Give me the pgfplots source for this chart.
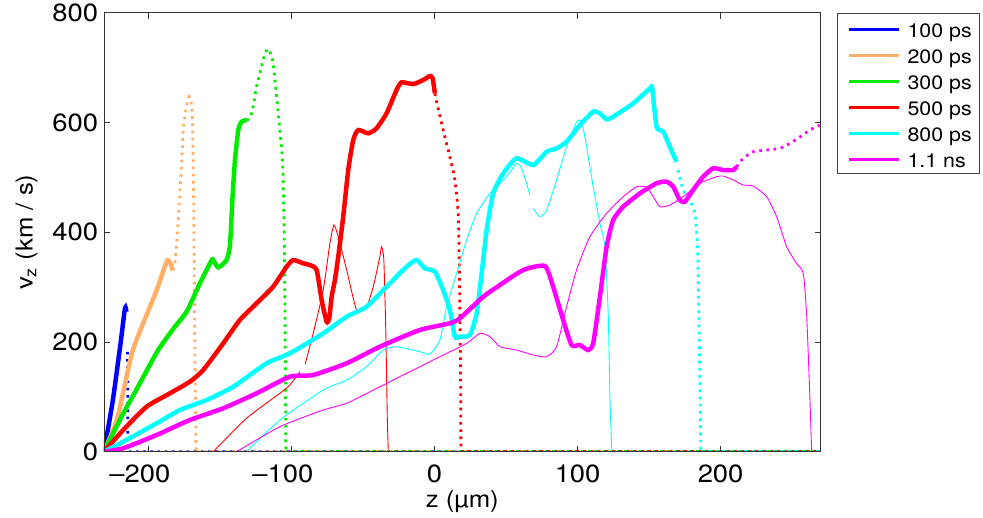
\documentclass[border=0pt]{standalone}
\usepackage{fontspec}
\setmainfont[FakeStretch=1.1]{TeX Gyre Heros}
\usepackage{pgfplots}
\pgfplotsset{compat=1.18}
\definecolor{cblue}{rgb}{0,0,1}
\definecolor{corange}{rgb}{1,0.69,0.40}
\definecolor{cgreen}{rgb}{0,0.92,0}
\definecolor{cred}{rgb}{1,0,0}
\definecolor{ccyan}{rgb}{0,1,1}
\definecolor{cmag}{rgb}{1,0,1}
\begin{document}
\begin{tikzpicture}
\useasboundingbox (-104bp,-66.3bp) rectangle (879bp,451.7bp);
\begin{axis}[
  at={(0,0)}, anchor=south west,
  scale only axis, width=716.7bp, height=439bp,
  xmin=-231.2, xmax=270, ymin=0, ymax=800,
  xtick={-200,-100,0,100,200},
  xticklabels={\textendash200\hspace*{17.4bp},\textendash100\hspace*{17.4bp},0,100,200},
  ytick={0,200,400,600,800},
  /pgf/number format/assume math mode=true,
  tick align=inside, major tick length=6bp,
  tick style={black!80, line width=0.6bp},
  axis line style={black!80, line width=0.8bp},
  axis on top,
  ticklabel style={font=\fontsize{25}{28}\selectfont},
  xticklabel style={inner ysep=0pt, yshift=-13bp},
  yticklabel style={inner xsep=0pt, xshift=-5.7bp},
  xlabel={z (µm)}, ylabel={v\textsubscript{z} (km / s)},
  every axis x label/.style={at={(axis description cs:0.5,0)}, anchor=center, yshift=-50.3bp, font=\fontsize{23.5}{26}\selectfont},
  every axis y label/.style={at={(axis description cs:-0.1079,0.5)}, anchor=center, rotate=90, font=\fontsize{23.5}{26}\selectfont},
  legend style={at={(1.0225,1)}, anchor=north west, draw=black!75, line width=0.8bp,
    font=\fontsize{19.5}{22}\selectfont, inner xsep=7.5bp, inner ysep=3.3bp,
    nodes={inner sep=0pt, text height=21bp, text depth=3bp},
    row sep=2bp, column sep=7.3bp},
  legend cell align=left,
  legend image code/.code={\path (0bp,-4bp) (0bp,4bp); \draw[#1, line width=3bp, solid] (2.5bp,-0.7bp) -- (51.8bp,-0.7bp);},
  thk/.style={line width=4.5bp, smooth, tension=0.35},
  dts/.style={line width=2.8bp, dash pattern=on 2.6bp off 4.6bp, smooth, tension=0.35},
  dtz/.style={line width=2.8bp, dash pattern=on 2.6bp off 4.6bp},
  thn/.style={line width=0.9bp, smooth, tension=0.35},
]
% ---------------- 100 ps
\addplot[cblue, thk] coordinates {(-231.2,0) (-225,94) (-219.5,200) (-216.5,262) (-215.5,255)};
\addlegendentry{100 ps}
\addplot[cblue, dtz, forget plot] coordinates {(-214.7,182) (-214.5,0) (270,0)};
% ---------------- 200 ps
\addplot[corange, thk] coordinates {(-231.2,0) (-222,60) (-211,185) (-195,290) (-189,335) (-186.7,349) (-185,345) (-183,330)};
\addlegendentry{200 ps}
\addplot[corange, dts, forget plot] coordinates {(-181.6,344) (-179.7,404) (-176.9,526) (-175.8,586) (-174.4,615) (-172.8,640) (-171.6,647) (-170.5,640) (-169.5,615) (-168.8,526) (-168.3,404) (-167.6,185) (-166.9,3)};
\addplot[corange, dtz, forget plot] coordinates {(-166.9,0) (270,0)};
% ---------------- 300 ps
\addplot[cgreen, thk] coordinates {(-231.2,0) (-218.9,63.8) (-206.1,124.6) (-193.3,185.3) (-181.6,227.8) (-173.4,255.1) (-164.1,306.9) (-156.6,345.7) (-155.2,350.6) (-151.3,336) (-145.5,349.3) (-143.1,376.6) (-141.3,464.7) (-139.6,531.5) (-137.3,586.2) (-135,601.3) (-131.5,604.4)};
\addlegendentry{300 ps}
\addplot[cgreen, dts, forget plot] coordinates {(-131.5,604.4) (-129.2,607.5) (-126.9,628.6) (-124.5,665.1) (-122.2,689.5) (-119.9,713.7) (-117.1,733.8) (-114.7,726) (-112.9,707.7) (-110.5,646.9) (-108.2,586.2) (-106.3,525.5) (-105.2,403.9) (-104.5,221.6) (-104,3)};
\addplot[cgreen, dtz, forget plot] coordinates {(-104,0) (270,0)};
% ---------------- 500 ps
\addplot[cred, thk] coordinates {(-231.2,0) (-217.8,39.5) (-201.4,82) (-185.1,106.4) (-171.1,127.6) (-161.8,148.8) (-147.8,197.5) (-136.2,240) (-124.5,270.4) (-112.9,300.7) (-103.5,337.1) (-98.9,349.3) (-91.9,343.3) (-87.2,340.2) (-82.5,331.1) (-79,276.4) (-75.5,236.9) (-73.7,243.1) (-72,282.4) (-69.7,312.9) (-67.4,355.3) (-63.9,428.2) (-60.4,513.3) (-56.9,568) (-53.4,586.2) (-46.4,580.2) (-40.6,589.3) (-33.6,616.6) (-26.6,659.1) (-23.1,673.1) (-15,670) (-8,677.3) (-3.3,684.6) (-1.4,680.4) (0.2,653)};
\addlegendentry{500 ps}
\addplot[cred, dts, forget plot] coordinates {(0.2,653) (1.4,637.8) (6,586.2) (10.7,537) (14.2,495) (16.5,434.4) (17.2,349.3) (17.7,252.7) (18.2,130.6) (18.4,3)};
\addplot[cred, dtz, forget plot] coordinates {(18.4,0) (270,0)};
\addplot[cred, thn, forget plot] coordinates {(-154.8,0) (-131.5,60.9) (-108.2,106.4) (-101.2,121.5) (-94.2,145.8)};
\addplot[cred, thn, forget plot] coordinates {(-90.5,160) (-84.9,215.7) (-77.9,294.6) (-73.2,379.7) (-70.4,413.1) (-67.4,391.8) (-61.5,331.1) (-54.5,258.2) (-47.6,264.2) (-42.9,300.7) (-38.3,355.3) (-37.1,373.5) (-35.5,349.3) (-34.1,215.7) (-33.1,63.8) (-32.4,3)};
% ---------------- 800 ps
\addplot[ccyan, thk] coordinates {(-231.2,0) (-217.8,18.2) (-194.4,51.7) (-178.1,76) (-159.4,94.2) (-140.8,118.4) (-117.5,161.1) (-101.2,179.3) (-77.9,215.7) (-61.5,246) (-47.6,264.2) (-33.6,300.7) (-19.6,337.1) (-12.6,349.3) (-6.8,334.2) (0.2,328) (6,294.6) (10.7,258.2) (14.2,209.6) (17.7,209.6) (24.7,212.6) (29.4,252.2) (32.9,325.1) (36.4,404) (41,470.8) (48,507.3) (57.3,534.6) (69,522.4) (78.3,546.6) (85.3,552.8) (92.3,564.9) (101.6,595.3) (110.9,619.5) (115.6,616.6) (120.3,605.7) (124.9,610.4) (138.9,634.8) (150.6,662.2) (152.2,662.2) (155.2,592.2) (159.9,583.1) (164.5,555.8) (169.2,528.4)};
\addlegendentry{800 ps}
\addplot[ccyan, dts, forget plot] coordinates {(170.3,513.3) (173.8,476.9) (178.5,458.7) (182,434.4) (183.9,373.5) (184.8,252.2) (185.5,130.6) (186.2,3)};
\addplot[ccyan, dtz, forget plot] coordinates {(186.2,0) (270,0)};
\addplot[ccyan, thn, forget plot] coordinates {(-131.5,0) (-108.2,57.8) (-77.9,112.4) (-61.5,130.6) (-47.6,154.9) (-35.9,185.3) (-26.6,191.3) (-10.3,182.2) (-3.3,178) (3.7,203.5) (8.4,264.2) (15.4,325.1) (22.4,385.7) (29.4,434.4) (38.7,470.8) (50.3,501.1) (57.3,525.5) (60.8,516.4) (64.3,489.1) (66.6,467.8)};
\addplot[ccyan, thn, forget plot] coordinates {(69,443.5) (73.6,428.2) (78.3,440.4) (85.3,495.1) (92.3,555.8) (99.3,601.3) (102.8,601.3) (106.3,555.8) (110.9,482.9) (115.6,416.2) (119.1,373.5) (121.4,252.2) (122.6,100.2) (123.8,9.1) (124.2,0)};
% ---------------- 1.1 ns
\addplot[cmag, thk] coordinates {(-231.2,0) (-217.8,6.2) (-194.4,30.4) (-171.1,57.8) (-147.8,79.1) (-124.5,106.4) (-101.2,136.7) (-84.9,139.8) (-61.5,161.1) (-38.3,191.3) (-10.3,221.8) (10.7,234) (17.7,243.1) (34,282.4) (45.7,303.8) (62,331.1) (77.1,338.4) (82.9,300.7) (89.9,240) (95.8,194.4) (101.6,194.4) (107.4,185.3) (110.9,197.5) (115.6,282.4) (120.3,373.5) (124.9,422.2) (131.9,446.4) (143.6,470.8) (155.2,489.1) (162.2,492) (166.9,482.9) (171.5,458.6) (175,455.5) (180.8,476.9) (187.8,501.1) (194.8,516.4) (201.8,513.3) (208.8,513.3) (211.2,519.3)};
\addlegendentry{1.1 ns}
\addplot[cmag, dts, forget plot] coordinates {(211.2,519.3) (215.8,534.6) (222.8,546.6) (232.2,549.7) (241.5,552.8) (248.5,561.9) (255.7,574) (262.4,586.2) (269.4,595.3)};
\addplot[cmag, thn, forget plot] coordinates {(-138.5,0) (-108.2,45.6) (-77.9,76) (-61.5,88.2) (-38.3,118.4) (-24.3,136.7) (-10.3,154.9) (-1,167.1) (22.4,197.5) (31.7,215.7) (38.7,209.6) (45.7,191.3) (57.3,185.3) (69,176.2) (78.3,173.1) (85.3,191.3) (92.3,264.2) (99.3,331.1) (108.6,391.8) (120.3,434.4) (131.9,464.7) (141.3,482.9) (148.3,481.8) (152.9,464.7) (157.6,446.4) (164.5,449.5) (173.8,464.7) (185.5,489.1) (197.2,501.1) (201.8,502.4) (208.8,495.1) (215.8,486) (222.8,484.2) (232.2,464.7) (239.2,428.2) (246.2,373.5) (253.1,343.3) (257.8,325.1) (260.1,252.2) (262,130.6) (263.6,9.1) (264,0) (270,0)};
\end{axis}
\end{tikzpicture}
\end{document}
